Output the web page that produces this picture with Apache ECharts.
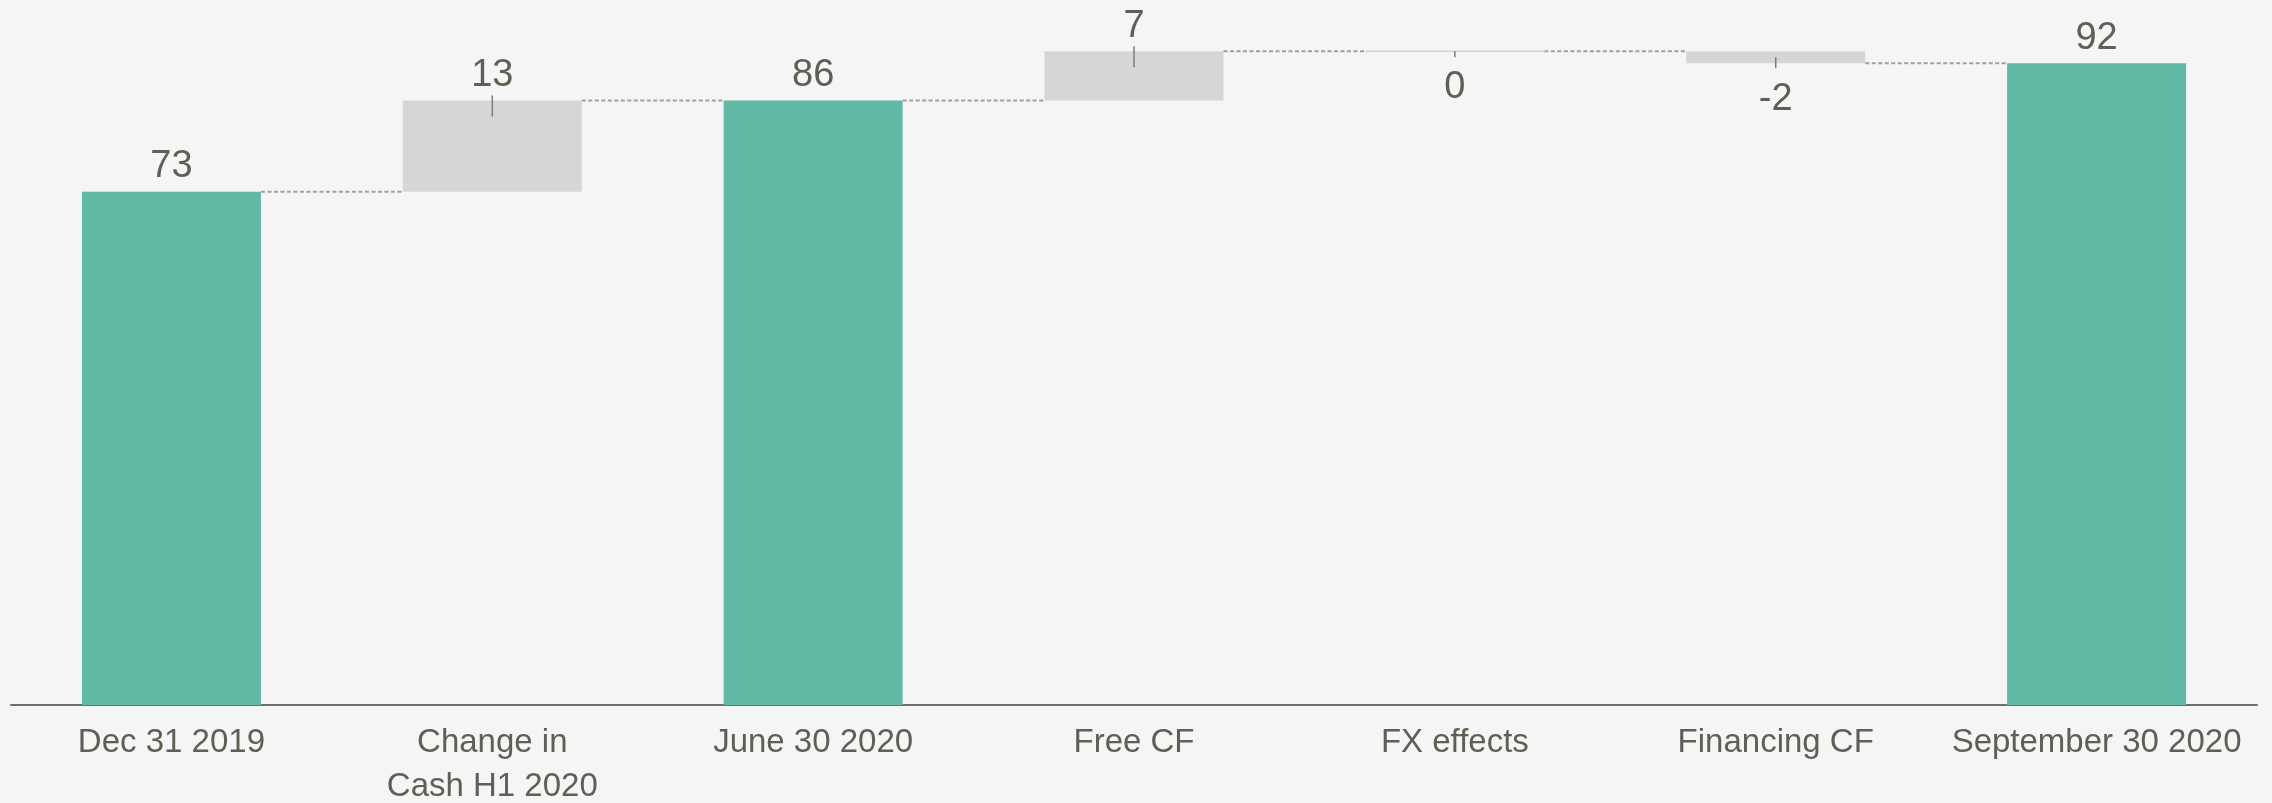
<!DOCTYPE html>
<html>
<head>
<meta charset="utf-8">
<script src="https://cdn.jsdelivr.net/npm/echarts@6/dist/echarts.min.js"></script>
<style>
  html, body { margin: 0; padding: 0; background: #f5f5f5; }
  #main { width: 2272px; height: 803px; }
</style>
</head>
<body>
<div id="main"></div>
<script>
var categories = ['Dec 31 2019', 'Change in\nCash H1 2020', 'June 30 2020', 'Free CF', 'FX effects', 'Financing CF', 'September 30 2020'];
var values = [73, 13, 86, 7, 0, -1.7, 91.3];
var isTotal = [true, false, true, false, false, false, true];
var labels = ['73', '13', '86', '7', '0', '-2', '92'];

(function () {
    var chart = echarts.init(document.getElementById('main'));

    // running levels for the waterfall
    var starts = [], ends = [], bases = [], heights = [];
    var level = 0;
    for (var i = 0; i < values.length; i++) {
        if (isTotal[i]) {
            starts[i] = 0;
            ends[i] = values[i];
            level = values[i];
        } else {
            starts[i] = level;
            ends[i] = level + values[i];
            level = ends[i];
        }
        bases[i] = Math.min(starts[i], ends[i]);
        heights[i] = Math.abs(ends[i] - starts[i]);
    }

    var BAR_W = 179;
    var textColor = '#5f5f55';

    var barData = heights.map(function (h, i) {
        var below = !isTotal[i] && values[i] <= 0;
        return {
            value: h,
            itemStyle: { color: isTotal[i] ? '#60b9a5' : '#d5d6d8' },
            label: {
                position: below ? 'bottom' : 'top',
                distance: below ? 16 : 5
            }
        };
    });

    var decoData = categories.map(function (c, i) { return [i]; });

    function renderDeco(params, api) {
        var i = api.value(0);
        var half = BAR_W / 2;
        var children = [];
        // dashed connector to next bar
        if (i < categories.length - 1) {
            var a = api.coord([i, ends[i]]);
            var b = api.coord([i + 1, ends[i]]);
            children.push({
                type: 'line',
                shape: { x1: a[0] + half, y1: a[1], x2: b[0] - half, y2: b[1] },
                style: { stroke: '#a0a0a0', lineWidth: 2, lineDash: [4, 2.5] }
            });
        }
        if (!isTotal[i]) {
            var p = api.coord([i, ends[i]]);
            var y1, y2;
            if (values[i] > 0) {
                y1 = p[1] - 5; y2 = p[1] + 16;
            } else if (values[i] < 0) {
                y1 = p[1] - 6; y2 = p[1] + 5;
            } else {
                y1 = p[1]; y2 = p[1] + 6;
                children.push({
                    type: 'line',
                    shape: { x1: p[0] - half, y1: p[1], x2: p[0] + half, y2: p[1] },
                    style: { stroke: '#d2d2d2', lineWidth: 1.5 }
                });
            }
            children.push({
                type: 'line',
                shape: { x1: p[0], y1: y1, x2: p[0], y2: y2 },
                style: { stroke: '#7d7d72', lineWidth: 1.5 }
            });
        }
        return { type: 'group', children: children };
    }

    var option = {
        backgroundColor: '#f5f5f5',
        animation: false,
        grid: { left: 11, right: 15, top: 2, bottom: 98, outerBoundsMode: 'none', containLabel: false },
        xAxis: {
            type: 'category',
            data: categories,
            axisTick: { show: false },
            axisLine: { lineStyle: { color: '#707065', width: 2 } },
            axisLabel: {
                interval: 0,
                margin: 16,
                color: textColor,
                fontFamily: 'Liberation Sans',
                fontSize: 33,
                lineHeight: 44
            }
        },
        yAxis: {
            type: 'value',
            min: 0,
            max: 100,
            show: false,
            splitLine: { show: false }
        },
        series: [
            {
                name: 'base',
                type: 'bar',
                stack: 'w',
                barWidth: BAR_W,
                itemStyle: { color: 'transparent' },
                silent: true,
                data: bases
            },
            {
                name: 'value',
                type: 'bar',
                stack: 'w',
                barWidth: BAR_W,
                data: barData,
                label: {
                    show: true,
                    color: textColor,
                    fontFamily: 'Liberation Sans',
                    fontSize: 38,
                    lineHeight: 40,
                    formatter: function (p) { return labels[p.dataIndex]; }
                }
            },
            {
                name: 'deco',
                type: 'custom',
                renderItem: renderDeco,
                encode: { x: 0 },
                silent: true,
                z: 5,
                data: decoData
            }
        ]
    };

    chart.setOption(option);
})();
</script>
</body>
</html>
